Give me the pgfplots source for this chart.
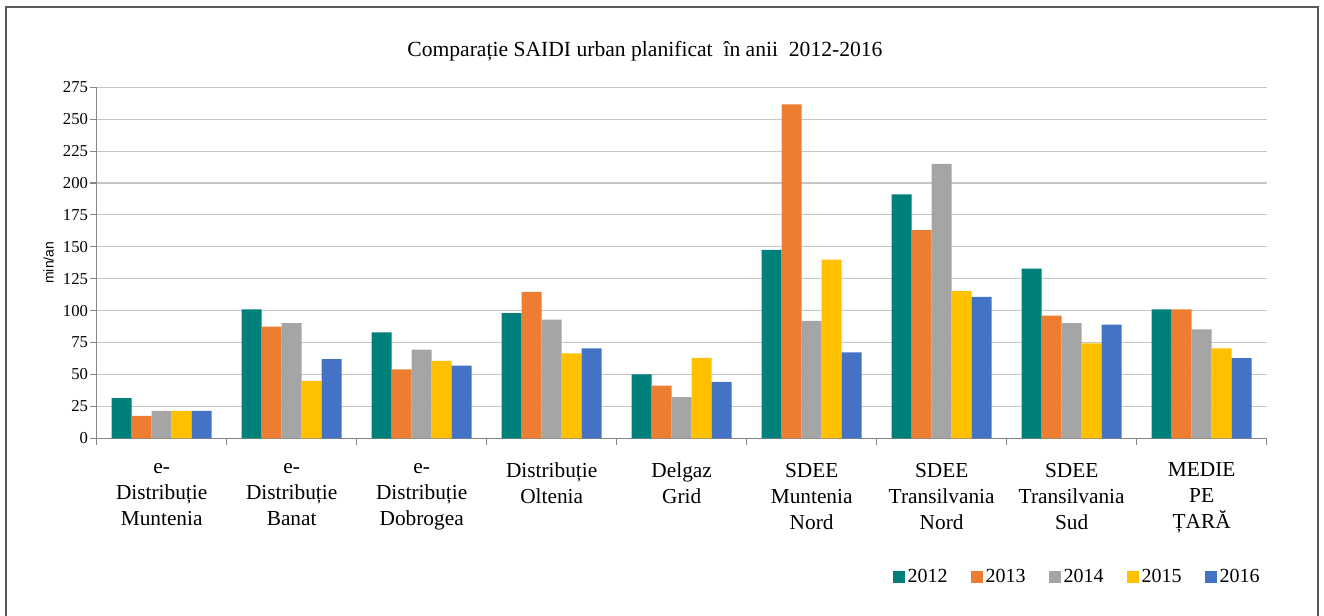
\documentclass[border=0pt]{standalone}
\usepackage{fontspec}
\setmainfont{Liberation Serif}
\newfontfamily\arialfont{Liberation Sans}
\usepackage{pgfplots}
\pgfplotsset{compat=1.18}
\definecolor{c2012}{HTML}{00807A}
\definecolor{c2013}{HTML}{ED7D31}
\definecolor{c2014}{HTML}{A5A5A5}
\definecolor{c2015}{HTML}{FFC000}
\definecolor{c2016}{HTML}{4472C4}
\definecolor{axisgray}{HTML}{868686}
\begin{document}
\begin{tikzpicture}
\useasboundingbox (0,0) rectangle (993pt,462pt);
\draw[black!65, line width=0.8pt] (4.5pt,-1pt) -- (4.5pt,456.75pt) -- (988.5pt,456.75pt) -- (988.5pt,-1pt);
\begin{axis}[
    at={(72.5pt,133.3pt)}, anchor=south west,
    scale only axis, width=877.5pt, height=263.25pt,
    ybar=0pt, bar width=15pt,
    xmin=-0.5, xmax=8.5, ymin=0, ymax=275,
    ytick={0,25,...,275},
    xtick={-0.5,0.5,...,8.5}, xticklabels={},
    extra x ticks={0,1,...,8},
    extra x tick labels={{e-\\Distribuție\\Muntenia},{e-\\Distribuție\\Banat},{e-\\Distribuție\\Dobrogea},{Distribuție\\Oltenia},{Delgaz\\Grid},{SDEE\\Muntenia\\Nord},{SDEE\\Transilvania\\Nord},{SDEE\\Transilvania\\Sud},{MEDIE\\PE\\ȚARĂ}},
    extra x tick style={major tick length=0pt, xmajorgrids=false},
    xticklabel style={align=center, font=\fontsize{16}{19.5}\selectfont, anchor=north, yshift=-15pt},
    yticklabel style={font=\fontsize{12.5}{14}\selectfont, xshift=2pt},
    /pgf/number format/assume math mode=true,
    axis x line*=bottom, axis y line*=left,
    axis line style={-, axisgray, line width=0.8pt},
    tick style={axisgray, line width=0.8pt},
    tick align=outside, major tick length=5pt,
    ymajorgrids, major grid style={gray!45, line width=0.8pt},
    ylabel={min/an},
    ylabel style={font=\arialfont\fontsize{10.5}{12}\selectfont},
    title={Comparație SAIDI urban planificat\ \ în anii\ \ 2012-2016},
    title style={at={(0.4686,1)}, anchor=south, font=\fontsize{16.2}{18}\selectfont, yshift=10pt},
    legend image code/.code={\draw[#1,/tikz/.cd,draw=none] (0pt,-4.5pt) rectangle (9pt,4.5pt);},
    legend columns=5,
    legend style={at={(1.0,-0.396)}, anchor=east, draw=none, fill=none,
        font=\fontsize{15}{17}\selectfont,
        /tikz/every even column/.append style={column sep=15.5pt},
        /tikz/every odd column/.append style={column sep=0pt}},
]
\addplot[fill=c2012, draw=none] coordinates {(0,31.4) (1,101) (2,83) (3,98) (4,50) (5,147.5) (6,191) (7,133) (8,101)};
\addplot[fill=c2013, draw=none] coordinates {(0,17.5) (1,87.5) (2,54) (3,114.7) (4,41.3) (5,261.5) (6,163) (7,96) (8,101)};
\addplot[fill=c2014, draw=none] coordinates {(0,21.4) (1,90.3) (2,69.4) (3,93) (4,32.2) (5,92) (6,215) (7,90.3) (8,85.3)};
\addplot[fill=c2015, draw=none] coordinates {(0,21.4) (1,45) (2,60.7) (3,66.5) (4,63) (5,140) (6,115.2) (7,74.3) (8,70.4)};
\addplot[fill=c2016, draw=none] coordinates {(0,21.4) (1,62) (2,57) (3,70.4) (4,44.2) (5,67.3) (6,110.8) (7,89) (8,62.8)};
\legend{2012,2013,2014,2015,2016}
\end{axis}
\end{tikzpicture}
\end{document}
